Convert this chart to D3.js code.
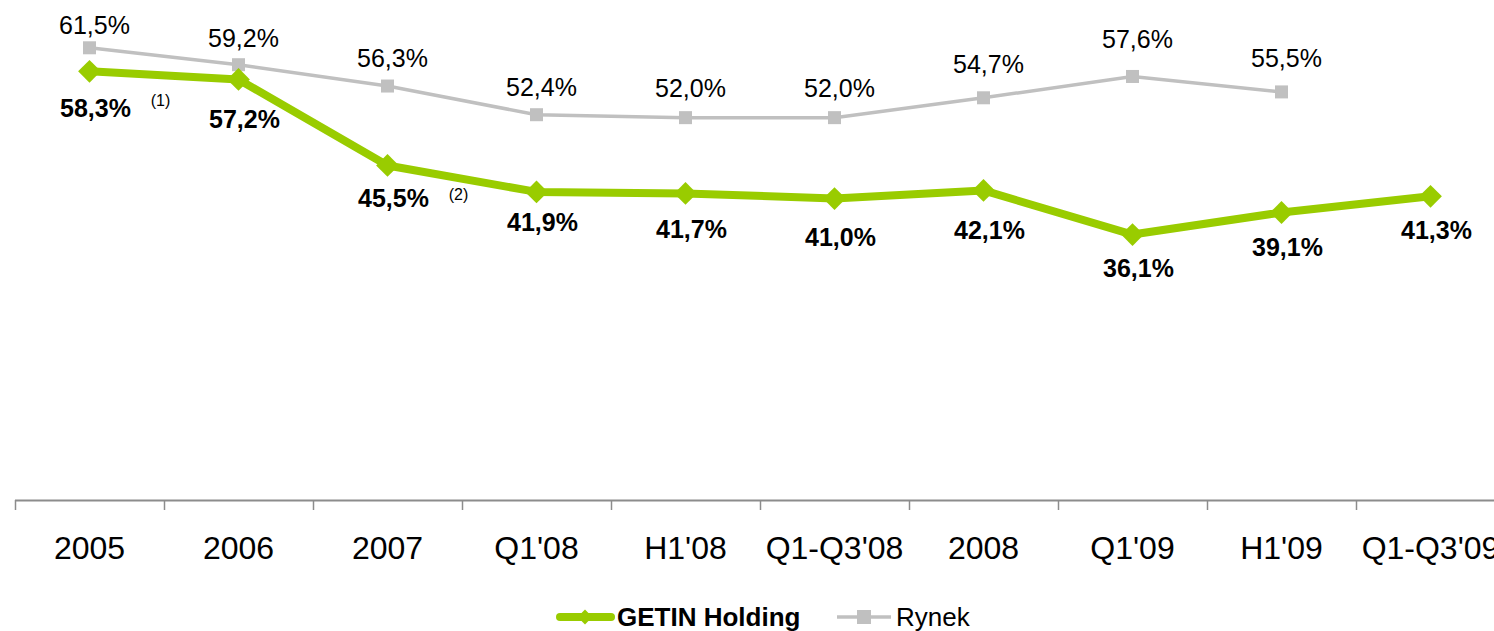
<!DOCTYPE html>
<html>
<head>
<meta charset="utf-8">
<script src="https://cdn.jsdelivr.net/npm/d3@7"></script>
<style>
  body { margin: 0; background: #fff; }
  svg text { font-family: "Liberation Sans", Arial, sans-serif; }
</style>
</head>
<body>
<div id="chart"></div>
<script>
// data
var categories = ["2005", "2006", "2007", "Q1'08", "H1'08", "Q1-Q3'08", "2008", "Q1'09", "H1'09", "Q1-Q3'09"];
var getinValues = [58.3, 57.2, 45.5, 41.9, 41.7, 41.0, 42.1, 36.1, 39.1, 41.3];
var rynekValues = [61.5, 59.2, 56.3, 52.4, 52.0, 52.0, 54.7, 57.6, 55.5];
var footnotes = [{ idx: 0, text: "(1)" }, { idx: 2, text: "(2)" }];

// label gaps (px) from marker, as placed in the original
var rynekLabelGap = [14, 18, 19, 19, 21, 21, 25, 28, 25];
var getinLabelGap = [46, 49, 42, 39, 45, 47, 49, 42, 43, 43];

var width = 1494, height = 631;
var green = "#99cc00", grey = "#c0c0c0";

function fmt(v) { return v.toFixed(1).replace(".", ",") + "%"; }

var svg = d3.select("#chart")
    .append("svg")
    .attr("width", width)
    .attr("height", height);

var x = d3.scaleBand()
    .domain(categories)
    .range([15, 15 + 149 * categories.length])
    .paddingInner(0).paddingOuter(0);

var y = d3.scaleLinear()
    .domain([0, 68])
    .range([500, 0]);

function cx(i) { return x(categories[i]) + x.bandwidth() / 2; }

// x axis: line + ticks at band edges
var axisG = svg.append("g");
axisG.append("line")
    .attr("x1", 15).attr("x2", width)
    .attr("y1", 500.5).attr("y2", 500.5)
    .attr("stroke", "#8c8c8c").attr("stroke-width", 2);
categories.forEach(function(c, i) {
    axisG.append("line")
        .attr("x1", x(c) + 0.5).attr("x2", x(c) + 0.5)
        .attr("y1", 500).attr("y2", 510)
        .attr("stroke", "#8c8c8c").attr("stroke-width", 1.5);
    axisG.append("text")
        .attr("x", cx(i)).attr("y", 559)
        .attr("text-anchor", "middle")
        .attr("font-size", 32)
        .attr("fill", "#000")
        .text(c);
});

var line = d3.line()
    .x(function(d, i) { return cx(i); })
    .y(function(d) { return y(d); });

// Rynek series
svg.append("path")
    .datum(rynekValues)
    .attr("d", line)
    .attr("fill", "none")
    .attr("stroke", grey)
    .attr("stroke-width", 3.5);

svg.selectAll(".rsq")
    .data(rynekValues)
    .enter().append("rect")
    .attr("x", function(d, i) { return cx(i) - 6.5; })
    .attr("y", function(d) { return y(d) - 6.5; })
    .attr("width", 13).attr("height", 13)
    .attr("fill", grey);

svg.selectAll(".rlab")
    .data(rynekValues)
    .enter().append("text")
    .attr("x", function(d, i) { return cx(i) + 5; })
    .attr("y", function(d, i) { return y(d) - rynekLabelGap[i]; })
    .attr("text-anchor", "middle")
    .attr("font-size", 25)
    .attr("fill", "#000")
    .text(fmt);

// GETIN series
svg.append("path")
    .datum(getinValues)
    .attr("d", line)
    .attr("fill", "none")
    .attr("stroke", green)
    .attr("stroke-width", 8)
    .attr("stroke-linejoin", "round");

var diamond = d3.symbol().type(d3.symbolSquare).size(260);
svg.selectAll(".gdia")
    .data(getinValues)
    .enter().append("path")
    .attr("d", diamond)
    .attr("transform", function(d, i) { return "translate(" + cx(i) + "," + y(d) + ") rotate(45)"; })
    .attr("fill", green);

svg.selectAll(".glab")
    .data(getinValues)
    .enter().append("text")
    .attr("x", function(d, i) { return cx(i) + 6; })
    .attr("y", function(d, i) { return y(d) + getinLabelGap[i]; })
    .attr("text-anchor", "middle")
    .attr("font-size", 25)
    .attr("font-weight", "bold")
    .attr("fill", "#000")
    .text(fmt);

// footnote marks
footnotes.forEach(function(f) {
    svg.append("text")
        .attr("x", cx(f.idx) + 71)
        .attr("y", y(getinValues[f.idx]) + 35)
        .attr("text-anchor", "middle")
        .attr("font-size", 16)
        .attr("fill", "#000")
        .text(f.text);
});

// legend
var leg = svg.append("g");
leg.append("line")
    .attr("x1", 560).attr("x2", 611).attr("y1", 617).attr("y2", 617)
    .attr("stroke", green).attr("stroke-width", 8).attr("stroke-linecap", "round");
leg.append("path")
    .attr("d", d3.symbol().type(d3.symbolSquare).size(110))
    .attr("transform", "translate(585,617) rotate(45)")
    .attr("fill", green);
leg.append("text")
    .attr("x", 617).attr("y", 626)
    .attr("font-size", 26).attr("font-weight", "bold")
    .text("GETIN Holding");

leg.append("line")
    .attr("x1", 837).attr("x2", 891).attr("y1", 617).attr("y2", 617)
    .attr("stroke", grey).attr("stroke-width", 3.5);
leg.append("rect")
    .attr("x", 857).attr("y", 610).attr("width", 14).attr("height", 14)
    .attr("fill", grey);
leg.append("text")
    .attr("x", 896).attr("y", 626)
    .attr("font-size", 26)
    .text("Rynek");
</script>
</body>
</html>
